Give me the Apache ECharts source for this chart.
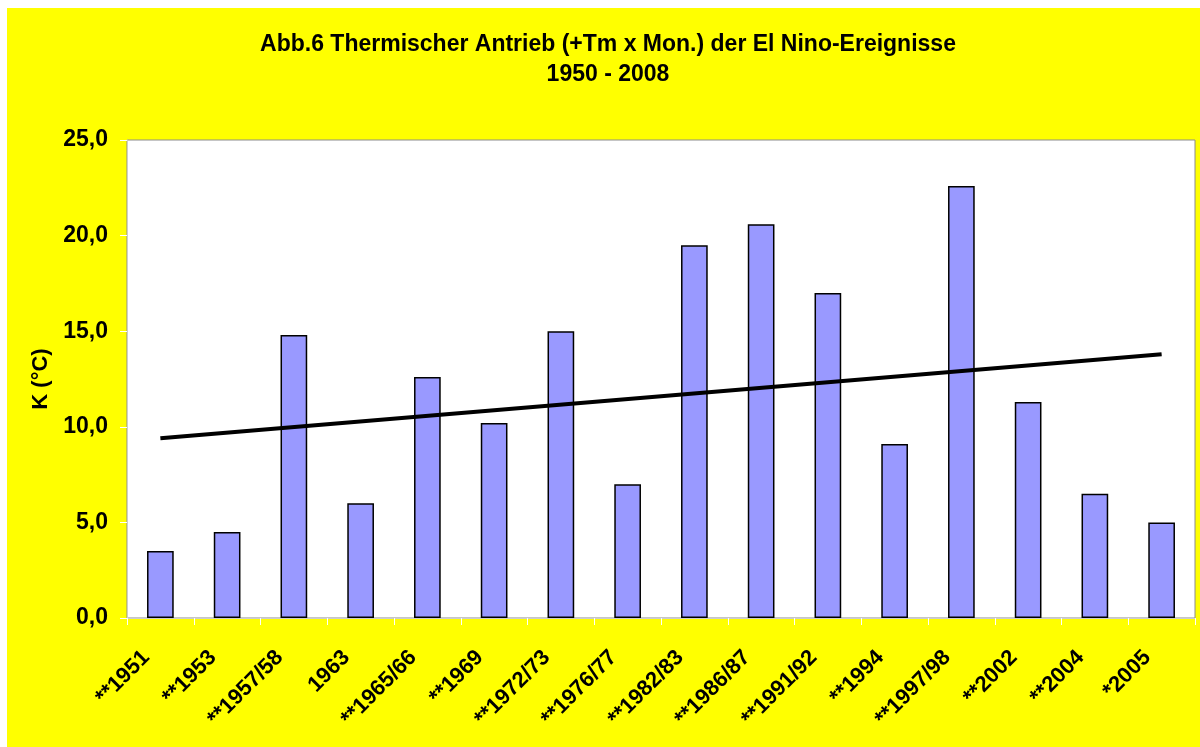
<!DOCTYPE html>
<html>
<head>
<meta charset="utf-8">
<script src="https://cdn.jsdelivr.net/npm/echarts@6/dist/echarts.min.js"></script>
<style>
  html, body { margin: 0; padding: 0; background: #fff; }
  #chart { position: absolute; left: 7px; top: 8px; width: 1193px; height: 739px; background: #ffff00; }
</style>
</head>
<body>
<div id="chart"></div>
<script>
const categories = [
  '**1951', '**1953', '**1957/58', '1963', '**1965/66', '**1969', '**1972/73', '**1976/77',
  '**1982/83', '**1986/87', '**1991/92', '**1994', '**1997/98', '**2002', '**2004', '*2005',
]
const antrieb = [3.5, 4.5, 14.8, 6.0, 12.6, 10.2, 15.0, 7.0, 19.5, 20.6, 17.0, 9.1, 22.6, 11.3, 6.5, 5.0]
// linear trend, read at first and last category
const trendStart = 9.4
const trendEnd = 13.8
const yTicks = { min: 0, max: 25, interval: 5 }

const trend = categories.map((c, i) =>
  i === 0 ? trendStart : i === categories.length - 1 ? trendEnd : null)

const font = 'Arial, "Liberation Sans", sans-serif'
const chart = echarts.init(document.getElementById('chart'))

chart.setOption({
  animation: false,
  backgroundColor: '#ffff00',
  title: {
    text: 'Abb.6 Thermischer Antrieb (+Tm x Mon.) der El Nino-Ereignisse\n1950 - 2008',
    left: 601,
    textAlign: 'center',
    top: 22,
    padding: 0,
    textStyle: { fontFamily: font, fontSize: 23, fontWeight: 'bold', color: '#000', lineHeight: 30 },
  },
  grid: {
    left: 120, right: 5, top: 132, bottom: 129,
    show: true, backgroundColor: '#fff', borderColor: '#8c8c8c', borderWidth: 1,
  },
  xAxis: {
    type: 'category',
    data: categories,
    boundaryGap: true,
    axisLine: { lineStyle: { color: '#ccc', width: 1 } },
    axisTick: { show: true, length: 7, lineStyle: { color: '#fff' } },
    axisLabel: {
      rotate: 45, margin: 22, interval: 0,
      padding: [0, 20, 0, 0],
      fontFamily: font, fontSize: 22, fontWeight: 'bold', color: '#000',
    },
  },
  yAxis: {
    type: 'value',
    min: yTicks.min, max: yTicks.max, interval: yTicks.interval,
    name: 'K (°C)',
    nameLocation: 'middle',
    nameGap: 73,
    nameTextStyle: { fontFamily: font, fontSize: 22, fontWeight: 'bold', color: '#000' },
    axisLine: { show: true, lineStyle: { color: '#ccc' } },
    axisTick: { show: true, length: 7, lineStyle: { color: '#fff' } },
    splitLine: { show: false },
    axisLabel: {
      margin: 19,
      fontFamily: font, fontSize: 23, fontWeight: 'bold', color: '#000',
      formatter: (v) => v.toFixed(1).replace('.', ','),
    },
  },
  series: [
    {
      type: 'bar',
      data: antrieb,
      barWidth: '40%',
      itemStyle: { color: '#9999ff', borderColor: '#000', borderWidth: 1.5 },
    },
    {
      type: 'line',
      data: trend,
      connectNulls: true,
      symbol: 'none',
      lineStyle: { color: '#000', width: 4 },
      z: 5,
    },
  ],
})
</script>
</body>
</html>
